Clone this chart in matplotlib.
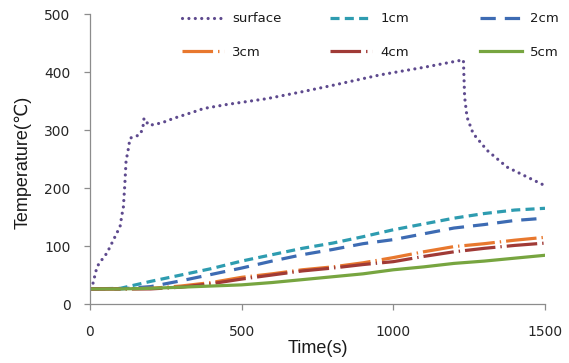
import matplotlib
matplotlib.use("Agg")
import matplotlib.pyplot as plt

plt.rcParams['lines.scale_dashes'] = False

# ---- data ----
t_surface = [10, 23, 33, 56, 75, 88, 99, 105, 110, 115, 119, 124, 132, 150, 165, 174,
             178, 185, 191, 209, 240, 275, 341, 374, 451, 583, 700, 800, 956, 1100,
             1231, 1235, 1243, 1263, 1309, 1375, 1441, 1500]
T_surface = [36, 64, 72, 88, 108, 122, 133, 153, 167, 208, 248, 260, 286, 289, 292, 303,
             320, 317, 309, 309, 313, 320, 331, 337, 344, 354, 366, 377, 395, 408,
             421, 357, 322, 294, 265, 236, 219, 204]

t_grid = [0, 100, 200, 300, 400, 500, 600, 700, 800, 900, 1000, 1100, 1200, 1300, 1400, 1500]
T_1cm = [26, 27, 39, 50, 61, 74, 85, 96, 105, 116, 128, 138, 148, 156, 162, 165]
T_2cm = [26, 26, 30, 40, 51, 62, 74, 85, 94, 104, 111, 121, 131, 137, 144, 148]
T_3cm = [26, 26, 27, 31, 37, 46, 52, 59, 64, 71, 80, 90, 99, 104, 110, 115]
T_4cm = [26, 26, 26, 29, 35, 43, 50, 57, 62, 68, 73, 82, 90, 96, 101, 105]
T_5cm = [26, 26, 27, 29, 31, 33, 37, 42, 47, 52, 59, 64, 70, 74, 79, 84]

series_labels = ['surface', '1cm', '2cm', '3cm', '4cm', '5cm']
x_ticks = [0, 500, 1000, 1500]
y_ticks = [0, 100, 200, 300, 400, 500]

# ---- figure ----
W, H = 569, 363
fig = plt.figure(figsize=(W / 100, H / 100), dpi=100)
ax = fig.add_axes([90 / W, (H - 304) / H, 455 / W, 290 / H])

lw = 2.3
l0, = ax.plot(t_surface, T_surface, color='#5E4A8E', lw=lw, dashes=(0.01, 4.6),
              dash_capstyle='round', label=series_labels[0])
l1, = ax.plot(t_grid, T_1cm, color='#2E9CB0', lw=lw, dashes=(6.5, 3.8),
              label=series_labels[1])
l2, = ax.plot(t_grid, T_2cm, color='#3D6BB3', lw=lw, dashes=(11, 6.5),
              label=series_labels[2])
l3, = ax.plot(t_grid, T_3cm, color='#E8782E', lw=lw, dashes=(22, 3.6, 1, 3.6),
              label=series_labels[3])
l4, = ax.plot(t_grid, T_4cm, color='#A03A36', lw=lw, dashes=(22, 3.6, 1, 3.6),
              label=series_labels[4])
l5, = ax.plot(t_grid, T_5cm, color='#77A540', lw=lw, label=series_labels[5])

ax.set_xlim(0, 1500)
ax.set_ylim(0, 500)
ax.set_xticks(x_ticks)
ax.set_yticks(y_ticks)

for s in ['top', 'right']:
    ax.spines[s].set_visible(False)
for s in ['left', 'bottom']:
    ax.spines[s].set_color('#8C8C8C')
    ax.spines[s].set_linewidth(0.9)

ax.tick_params(axis='both', direction='out', length=4, width=0.9, color='#8C8C8C',
               labelsize=10, labelcolor='#262626')
ax.tick_params(axis='y', pad=10)
ax.tick_params(axis='x', pad=11)

lab_font = dict(family=['Liberation Sans', 'DejaVu Sans'], fontsize=13, color='#1a1a1a')
ax.set_xlabel('Time(s)', **lab_font)
ax.set_ylabel('Temperature(℃)', **lab_font)
ax.xaxis.set_label_coords(0.5, -0.152)
ax.yaxis.set_label_coords(-0.147, 0.49)
ax.xaxis.label.set_va('center')
ax.yaxis.label.set_va('center')

# legends: three columns, two rows each
cols = [([l0, l3], 182), ([l1, l4], 330), ([l2, l5], 480)]
for handles, xpx in cols:
    leg = fig.legend(handles=handles, labels=[h.get_label() for h in handles],
                     loc='upper left', bbox_to_anchor=(xpx / W, 1 - 12.5 / H),
                     frameon=False, fontsize=9.5, handlelength=3.2, handletextpad=0.6,
                     labelspacing=1.55, borderpad=0, borderaxespad=0)
    for txt in leg.get_texts():
        txt.set_color('#1a1a1a')

fig.savefig('out.png', dpi=100)
